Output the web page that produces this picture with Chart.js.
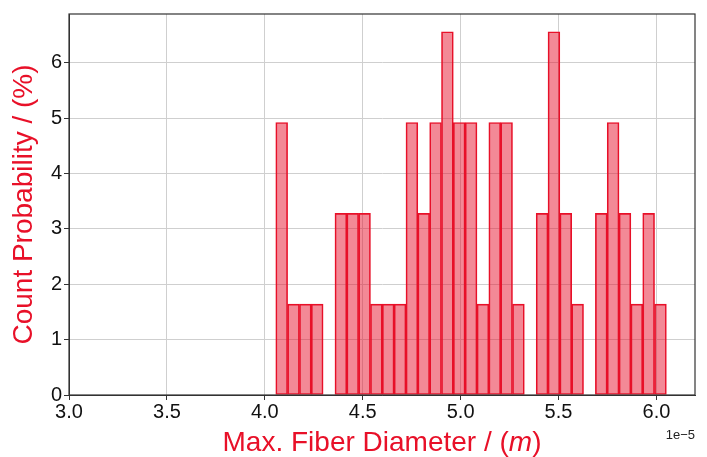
<!DOCTYPE html>
<html>
<head>
<meta charset="utf-8">
<script src="https://cdn.jsdelivr.net/npm/chart.js@4/dist/chart.umd.min.js"></script>
<style>
  html, body { margin: 0; padding: 0; background: #fff; }
  #wrap { width: 707px; height: 457px; }
</style>
</head>
<body>
<div id="wrap"><canvas id="chart"></canvas></div>
<script>
// bin centres, in units of 1e-5 m
var binCenters = [4.0862, 4.1467, 4.2071, 4.2676, 4.3280, 4.3885, 4.4489, 4.5094, 4.5698, 4.6303,
  4.6907, 4.7512, 4.8116, 4.8721, 4.9325, 4.9930, 5.0534, 5.1139, 5.1743, 5.2348,
  5.2952, 5.3557, 5.4161, 5.4766, 5.5370, 5.5975, 5.6579, 5.7184, 5.7788, 5.8393,
  5.8997, 5.9602, 6.0206];
// count probability in %
var probability = [4.92, 1.64, 1.64, 1.64, 0, 3.28, 3.28, 3.28, 1.64, 1.64,
  1.64, 4.92, 3.28, 4.92, 6.56, 4.92, 4.92, 1.64, 4.92, 4.92,
  1.64, 0, 3.28, 6.56, 3.28, 1.64, 0, 3.28, 4.92, 3.28,
  1.64, 3.28, 1.64];
var xTicks = [3.0, 3.5, 4.0, 4.5, 5.0, 5.5, 6.0];
var yTicks = [0, 1, 2, 3, 4, 5, 6];

var red = 'rgb(232, 16, 40)';
var font = '"Liberation Sans", Arial, sans-serif';

var points = binCenters.map(function(x, i) { return {x: x, y: probability[i]}; });

var frame = {
  id: 'frame',
  afterDraw: function(chart) {
    var ctx = chart.ctx, a = chart.chartArea;
    ctx.save();
    ctx.strokeStyle = '#333';
    ctx.lineWidth = 1.2;
    ctx.strokeRect(a.left, a.top, a.right - a.left, a.bottom - a.top);

    // x title with italic m
    var parts = [['Max. Fiber Diameter / (', 'normal'], ['m', 'italic'], [')', 'normal']];
    var total = 0;
    parts.forEach(function(p) {
      ctx.font = p[1] + ' 28px ' + font;
      p.push(ctx.measureText(p[0]).width);
      total += p[2];
    });
    var x = (a.left + a.right) / 2 - total / 2;
    ctx.fillStyle = red;
    ctx.textBaseline = 'alphabetic';
    ctx.textAlign = 'left';
    parts.forEach(function(p) {
      ctx.font = p[1] + ' 28px ' + font;
      ctx.fillText(p[0], x, 451);
      x += p[2];
    });

    // offset text
    ctx.font = '13px ' + font;
    ctx.fillStyle = '#222';
    ctx.textAlign = 'right';
    ctx.fillText('1e\u22125', a.right, 439);
    ctx.restore();
  }
};

var chart = new Chart('chart', {
  type: 'bar',
  data: {
    datasets: [{
      data: points,
      backgroundColor: 'rgba(232, 20, 45, 0.5)',
      borderColor: red,
      borderWidth: 1,
      borderSkipped: false,
      barPercentage: 1,
      categoryPercentage: 1
    }]
  },
  options: {
    animation: false,
    responsive: true,
    maintainAspectRatio: false,
    layout: { padding: { left: 0, right: 12, top: 10, bottom: 0 } },
    plugins: { legend: { display: false }, tooltip: { enabled: false } },
    scales: {
      x: {
        type: 'linear',
        min: 3.0,
        max: 6.197,
        offset: false,
        grid: { offset: false, color: '#cfcfcf', tickColor: '#333', tickLength: 5 },
        border: { color: '#333' },
        afterBuildTicks: function(s) { s.ticks = xTicks.map(function(v) { return {value: v}; }); },
        afterFit: function(s) { s.height = 62; },
        ticks: {
          color: '#111',
          padding: 0,
          font: { family: font, size: 20 },
          maxRotation: 0,
          callback: function(v) { return v.toFixed(1); }
        }
      },
      y: {
        min: 0,
        max: 6.88,
        grid: { color: '#cfcfcf', tickColor: '#333', tickLength: 5 },
        border: { color: '#333' },
        afterBuildTicks: function(s) { s.ticks = yTicks.map(function(v) { return {value: v}; }); },
        afterFit: function(s) { s.width = 69; },
        ticks: {
          color: '#111',
          padding: 2,
          font: { family: font, size: 20 },
          callback: function(v) { return String(v); }
        },
        title: {
          display: true,
          text: 'Count Probability / (%)',
          color: red,
          padding: { top: 7, bottom: 0 },
          font: { family: font, size: 28 }
        }
      }
    }
  },
  plugins: [frame]
});
</script>
</body>
</html>
